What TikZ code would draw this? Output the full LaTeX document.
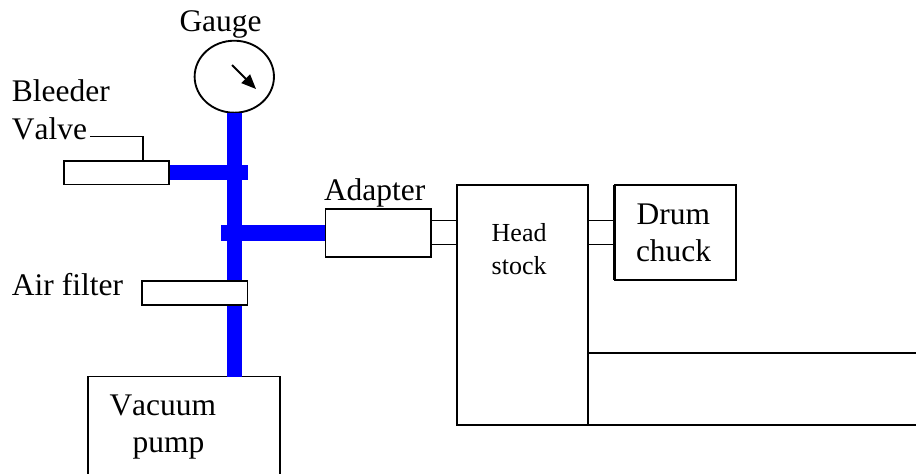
\documentclass[tikz,border=0pt]{standalone}
\usepackage{fontspec}
\setmainfont{Liberation Serif}[Kerning=Off]
\usetikzlibrary{arrows.meta,calc,shapes.geometric}
\tikzset{
  boxnode/.style={draw=black,fill=white,line width=1.4pt,inner sep=0pt,outer sep=0pt},
  pipe/.style={draw=blue,line width=11.6pt},
  wire/.style={draw=black,line width=1.4pt},
  lab/.style={anchor=base west,inner sep=0pt,outer sep=0pt,font=\fontsize{23.6pt}{23.6pt}\selectfont},
  smalllab/.style={anchor=base west,inner sep=0pt,outer sep=0pt,font=\fontsize{19.5pt}{19.5pt}\selectfont}
}
\newcommand{\pxbox}[6][]{% name, x1, y1, x2, y2
  \node[boxnode,#1,minimum width={(#5-#3)*0.75pt},minimum height={(#6-#4)*0.75pt}] (#2) at ({(#3+#5)/2},{(#4+#6)/2}) {};}
\begin{document}
\begin{tikzpicture}[x=0.75pt,y=-0.75pt]
\useasboundingbox (0,0) rectangle (916,474);
\clip (0,0) rectangle (916,474);
% gauge
\node[draw=black,fill=white,line width=1.4pt,ellipse,inner sep=0pt,outer sep=0pt,minimum width=59.5pt,minimum height=54pt] (gauge) at (234.3,76.7) {};
\coordinate (needleA) at (232,65);
\coordinate (needleB) at (256,89);
\draw[line width=1.4pt,-{Triangle[length=11pt,width=9pt]}] (needleA) -- (needleB);
% pump and main pipe
\pxbox{pump}{88}{376.5}{280}{500}
\coordinate (pumpTap) at (234.5,376.5);
\draw[pipe] (gauge.south -| pumpTap) -- (pumpTap);
% bleeder valve
\pxbox{bleeder}{64}{161}{169}{184.5}
\coordinate (teeA) at (247.5,172.5);
\draw[pipe] (bleeder.east |- teeA) -- (teeA);
% adapter
\pxbox{adapter}{325.5}{208.7}{430.7}{256.7}
\coordinate (teeB) at (221,233);
\draw[pipe] (teeB) -- (adapter.west |- teeB);
\draw[wire] (adapter.north west) rectangle (adapter.south east);
\draw[wire] (bleeder.north west) rectangle (bleeder.south east);
% air filter
\pxbox{filter}{142.3}{280.7}{247.5}{304.7}
% head stock, drum chuck
\pxbox{head}{456.7}{184.7}{587.7}{424.7}
\pxbox{drum}{615}{184.7}{736}{280.3}
\coordinate (drumEdge) at (613.7,232);
\draw[wire] (drumEdge |- drum.north) -- (drumEdge |- drum.south);
% stub connectors
\coordinate (stubA) at (440,220.5);
\coordinate (stubB) at (440,244.5);
\draw[wire] (adapter.east |- stubA) -- (head.west |- stubA);
\draw[wire] (adapter.east |- stubB) -- (head.west |- stubB);
\draw[wire] (head.east |- stubA) -- (drum.west |- stubA);
\draw[wire] (head.east |- stubB) -- (drum.west |- stubB);
% bed rails
\coordinate (railA) at (916,352.7);
\coordinate (railB) at (916,424.7);
\draw[wire] (head.east |- railA) -- (railA);
\draw[wire] (head.south east) -- (railB);
% valve leader
\coordinate (leadStart) at (90,136.5);
\coordinate (leadDrop) at (142.7,161);
\draw[wire] (leadStart) -| (leadDrop);
% labels
\node[lab] (tgauge) at (179.5,32) {Gauge};
\node[lab] (tbleeder) at (12,102) {Bleeder};
\node[lab] (tvalve) at (12,140) {Valve};
\node[lab] (tadapter) at (324,200) {Adapter};
\node[lab] (tair) at (12,295.7) {Air filter};
\node[lab] (tvac) at (109.5,415) {Vacuum};
\node[lab] (tpump) at (132.7,452.7) {pump};
\node[smalllab] (thead) at (491.7,241.7) {Head};
\node[smalllab] (tstock) at (491.7,274) {stock};
\node[lab] (tdrum) at (636.7,224) {Drum};
\node[lab] (tchuck) at (636,261.7) {chuck};
\end{tikzpicture}
\end{document}
